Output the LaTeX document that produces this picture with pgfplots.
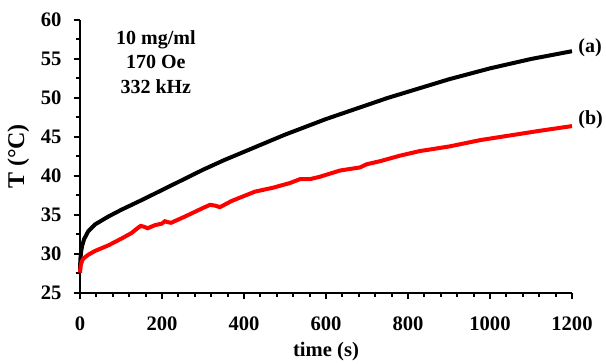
\documentclass[border=0pt]{standalone}
\usepackage{fontspec}
\setmainfont{Liberation Serif}
\usepackage{pgfplots}
\pgfplotsset{compat=1.18}
\begin{document}
\fontsize{10}{12}\selectfont\bfseries
\begin{tikzpicture}
\begin{axis}[
  scale only axis, width=246pt, height=136.5pt,
  xmin=0, xmax=1200, ymin=25, ymax=60,
  axis x line*=bottom, axis y line*=left,
  axis line style={line width=1.4pt, -},
  xtick={0,200,...,1200}, ytick={25,30,...,60},
  minor x tick num=4, minor y tick num=1,
  tick align=outside,
  major tick length=3.2pt, minor tick length=2pt,
  every tick/.style={black, line width=1pt},
  /pgf/number format/assume math mode=true,
  /pgf/number format/1000 sep={},
  ticklabel style={font=\fontsize{10.3}{12}\selectfont\bfseries},
  xticklabel style={yshift=-5pt},
  yticklabel style={xshift=-2.5pt},
  xlabel={time (s)}, ylabel={T (°C)},
  xlabel style={font=\fontsize{10.3}{12}\selectfont\bfseries, yshift=1pt},
  ylabel style={font=\fontsize{12}{14}\selectfont\bfseries, yshift=-1pt},
  clip=false,
]
\addplot[black, line width=2pt] coordinates {
(0,28.0) (1,29.4) (3,30.4) (5,31.0) (10,31.9) (20,32.9) (37,33.8) (69,34.8)
(102,35.7) (150,36.9) (200,38.2) (250,39.5) (300,40.8) (350,42.0) (400,43.1)
(450,44.2) (500,45.3) (550,46.3) (600,47.3) (650,48.2) (700,49.1) (750,50.0)
(800,50.8) (850,51.6) (900,52.4) (950,53.1) (1000,53.8) (1050,54.4)
(1100,55.0) (1150,55.5) (1200,56.0)
};
\addplot[red, line width=2pt] coordinates {
(0,27.6) (2,28.6) (5,29.1) (8,29.4) (20,29.9) (37,30.4) (69,31.1) (102,32.0)
(126,32.7) (140,33.3) (148,33.6) (156,33.5) (165,33.3) (183,33.7) (200,33.9)
(207,34.2) (213,34.1) (222,34.0) (256,34.8) (280,35.4) (300,35.9) (317,36.3)
(330,36.2) (341,36.0) (370,36.8) (427,38.0) (471,38.5) (512,39.1) (537,39.6)
(561,39.6) (585,39.9) (634,40.7) (683,41.1) (699,41.5) (732,41.9) (780,42.6)
(829,43.2) (854,43.4) (902,43.8) (976,44.6) (1049,45.2) (1122,45.8) (1200,46.4)
};
\node[align=center, font=\fontsize{10}{12.25}\selectfont\bfseries] at (axis cs:185,54.6) {10 mg/ml\\170 Oe\\332 kHz};
\node[anchor=west, inner sep=0pt, xshift=3pt] at (axis cs:1200,56.4) {(a)};
\node[anchor=west, inner sep=0pt, xshift=3pt] at (axis cs:1200,47.2) {(b)};
\end{axis}
\pgfresetboundingbox
\path (current axis.south west) ++(-40pt,-35.5pt) coordinate (bl);
\path (current axis.north east) ++(17pt,10pt) coordinate (tr);
\path (bl) rectangle (tr);
\end{tikzpicture}
\end{document}
